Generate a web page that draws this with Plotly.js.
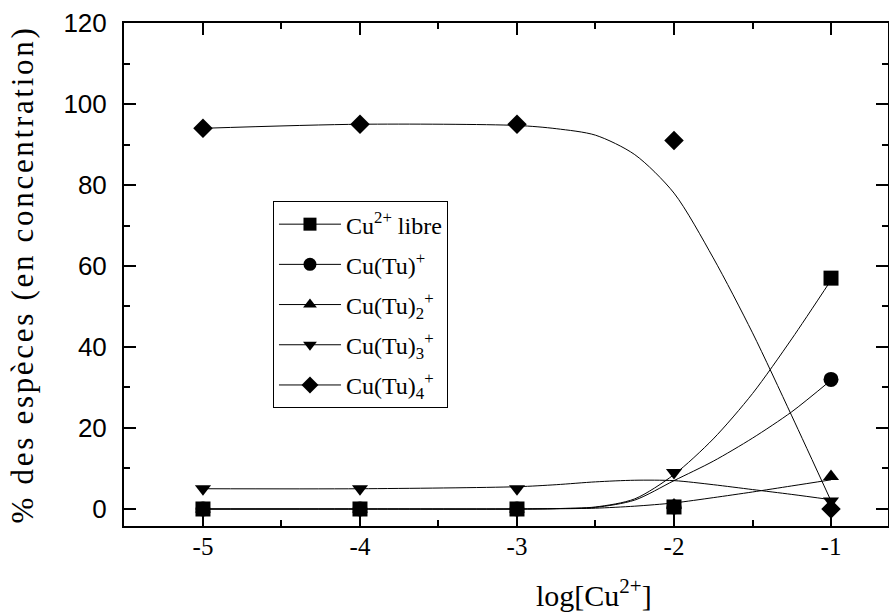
<!DOCTYPE html>
<html>
<head>
<meta charset="utf-8">
<script src="https://cdn.plot.ly/plotly-3.0.1.min.js"></script>
<style>
html,body{margin:0;padding:0;background:#fff;}
#chart{width:889px;height:613px;}
#chart .ytitle{letter-spacing:2.7px; font-family:'Liberation Serif','Times New Roman',serif !important;}
#chart .xtick text{font-family:'Liberation Serif','Times New Roman',serif !important;}
#chart .ytick text{font-family:'Liberation Sans',Arial,sans-serif !important;}
</style>
</head>
<body>
<div id="chart"></div>
<script>
// Measured points
var logCu = [-5, -4, -3, -2, -1];
var cuLibre = [0, 0, 0, 0.5, 57];
var cuTu1 = [0, 0, 0, 0.5, 32];
var cuTu2 = [0, 0, 0, 1, 8];
var cuTu3 = [5, 5, 5, 9, 2];
var cuTu4 = [94, 95, 95, 91, 0];

// Fitted curves
var xFit = [-5, -4, -3, -2.75, -2.5, -2.25, -2, -1.75, -1.5, -1.25, -1];
var fitLibre = [0, 0, 0, 0.1, 0.5, 2.5, 8.5, 17.3, 28.5, 42, 56.5];
var fitTu1 = [0, 0, 0, 0.1, 0.4, 2.2, 7, 11.8, 17.5, 24, 31.8];
var fitTu2 = [0, 0, 0, 0.05, 0.2, 0.7, 1.5, 2.8, 4.2, 5.7, 7.2];
var fitTu3 = [5, 5, 5.5, 6, 6.7, 7.1, 7, 6, 4.8, 3.6, 2.3];
var fitTu4 = [94, 95, 94.7, 93.9, 92.3, 87.5, 78, 62, 43.5, 23, 2];

var names = ['Cu<sup>2+</sup> libre', 'Cu(Tu)<sup>+</sup>', 'Cu(Tu)<sub>2</sub><sup>+</sup>', 'Cu(Tu)<sub>3</sub><sup>+</sup>', 'Cu(Tu)<sub>4</sub><sup>+</sup>'];
var symbols = ['square', 'circle', 'triangle-up', 'triangle-down', 'diamond'];
var sizes = [15, 15, 14, 14, 15];
var pts = [cuLibre, cuTu1, cuTu2, cuTu3, cuTu4];
var fits = [fitLibre, fitTu1, fitTu2, fitTu3, fitTu4];
var xTickText = ['-5', '-4', '-3', '-2', '-1'];
var yTickVals = [0, 20, 40, 60, 80, 100, 120];
var xTitle = 'log[Cu<sup>2+</sup>]';
var yTitle = '% des espèces (en concentration)';

var traces = [];
for (var i = 0; i < 5; i++) {
  traces.push({x: xFit, y: fits[i], mode: 'lines', line: {color: '#000', width: 1, shape: 'spline', smoothing: 0.8}, showlegend: false, hoverinfo: 'skip'});
}
for (var i = 0; i < 5; i++) {
  traces.push({x: logCu, y: pts[i], mode: 'markers', marker: {symbol: symbols[i], size: sizes[i], color: '#000'}, showlegend: false});
}
for (var i = 0; i < 5; i++) {
  traces.push({x: [null], y: [null], mode: 'lines+markers', name: names[i], legendgroup: 'g' + i,
    line: {color: '#000', width: 1}, marker: {symbol: symbols[i], size: sizes[i] - 2, color: '#000'}});
}

var serif = 'Liberation Serif';
var sans = 'Liberation Sans';

var layout = {
  width: 889, height: 613,
  margin: {l: 124, r: 1, t: 23, b: 87},
  paper_bgcolor: '#fff', plot_bgcolor: '#fff',
  font: {family: serif, size: 24, color: '#000'},
  showlegend: true,
  legend: {
    x: 0.195, y: 0.646, xanchor: 'left', yanchor: 'top',
    bgcolor: '#fff', bordercolor: '#000', borderwidth: 1,
    font: {family: serif, size: 24, color: '#000'},
    traceorder: 'grouped', tracegroupgap: 6, itemwidth: 62
  },
  annotations: [{
    text: xTitle, xref: 'paper', yref: 'paper', x: 0.615, y: -0.133,
    xanchor: 'center', yanchor: 'middle', showarrow: false,
    font: {family: serif, size: 30, color: '#000'}
  }],
  xaxis: {
    range: [-5.503, -0.637],
    tickvals: logCu, ticktext: xTickText,
    showgrid: false, zeroline: false,
    showline: true, linewidth: 2, linecolor: '#000', mirror: 'ticks',
    ticks: 'inside', ticklen: 12, tickwidth: 2, tickcolor: '#000',
    minor: {dtick: 0.5, tick0: -5, ticks: 'inside', ticklen: 6, tickwidth: 2, tickcolor: '#000', showgrid: false},
    tickfont: {family: serif, size: 25, color: '#000'},
    ticklabelstandoff: -3
  },
  yaxis: {
    range: [-4.2, 120],
    tickvals: yTickVals,
    showgrid: false, zeroline: false,
    showline: true, linewidth: 2, linecolor: '#000', mirror: 'ticks',
    ticks: 'inside', ticklen: 12, tickwidth: 2, tickcolor: '#000',
    minor: {dtick: 10, tick0: 0, ticks: 'inside', ticklen: 6, tickwidth: 2, tickcolor: '#000', showgrid: false},
    tickfont: {family: sans, size: 26, color: '#000'},
    ticklabelstandoff: 10,
    title: {text: yTitle, font: {family: serif, size: 31, color: '#000'}, standoff: 21}
  }
};

Plotly.newPlot('chart', traces, layout, {displayModeBar: false, staticPlot: true});
</script>
</body>
</html>
